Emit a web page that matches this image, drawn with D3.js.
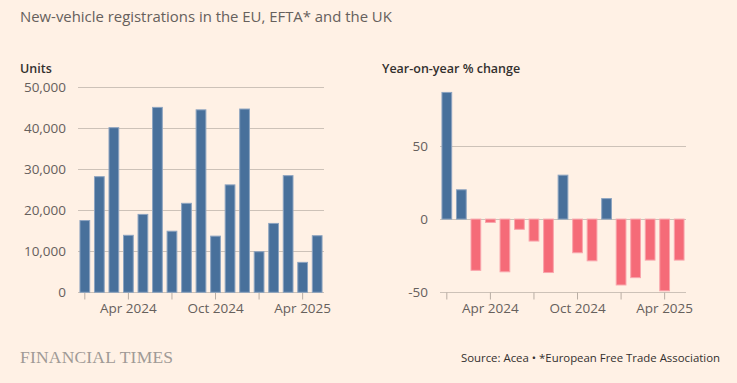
<!DOCTYPE html>
<html><head><meta charset="utf-8">
<script src="https://cdn.jsdelivr.net/npm/d3@7"></script>
<style>
html,body{margin:0;padding:0;background:#fff1e5;}
svg{display:block;font-family:"Open Sans",sans-serif;}
</style></head>
<body>
<svg id="c" width="737" height="383"></svg>
<script>
const months = ["Jan 2024","Feb 2024","Mar 2024","Apr 2024","May 2024","Jun 2024","Jul 2024","Aug 2024","Sep 2024","Oct 2024","Nov 2024","Dec 2024","Jan 2025","Feb 2025","Mar 2025","Apr 2025","May 2025"];
const units = [17500, 28200, 40150, 13900, 19000, 45100, 14900, 21700, 44500, 13700, 26200, 44700, 9900, 16800, 28450, 7300, 13800];
const yoy = [86.5, 20, -35, -2.3, -36, -7, -15, -36.5, 30, -23, -28.5, 14, -45, -40, -28, -49, -28];
const tickMonths = ["Jan 2024","Apr 2024","Jul 2024","Oct 2024","Jan 2025","Apr 2025"];
const labelledTicks = ["Apr 2024","Oct 2024","Apr 2025"];
const unitsTicks = [0, 10000, 20000, 30000, 40000, 50000];
const yoyTicks = [-50, 0, 50];

const svg = d3.select("#c");
const blue = "#48709b", blueStroke = "#8da4c0";
const pink = "#f56b78", pinkStroke = "#f9a5ac";
const grid = "#cdc2b8", tickCol = "#b8ada3", textCol = "#66605c";

svg.append("text").attr("x", 20).attr("y", 22).attr("font-size", 14.9).attr("fill", "#66605c")
  .text("New-vehicle registrations in the EU, EFTA* and the UK");

function panel(opts){
  const x = d3.scaleBand().domain(months).range(opts.xr).paddingInner(0.26).paddingOuter(0.1);
  const y = d3.scaleLinear().domain(opts.dom).range([292.3, 87.3]);
  const g = svg.append("g");
  g.append("text").attr("x", opts.titleX).attr("y", 73).attr("font-size", 12.5).attr("font-weight", 600)
    .attr("fill", "#33302e").text(opts.title);
  g.selectAll("line.grid").data(opts.ticks).join("line").attr("class","grid")
    .attr("x1", opts.xr[0]).attr("x2", opts.xr[1])
    .attr("y1", d => Math.round(y(d)) + 0.5).attr("y2", d => Math.round(y(d)) + 0.5)
    .attr("stroke", grid).attr("stroke-width", 1);
  g.selectAll("text.yl").data(opts.ticks).join("text").attr("class","yl")
    .attr("x", opts.labelX).attr("y", d => y(d)).attr("dy", "0.35em").attr("text-anchor","end")
    .attr("font-size", 13.5).attr("fill", textCol).text(opts.fmt);
  const xAxis = d3.axisBottom(x).tickValues(tickMonths).tickSize(7).tickPadding(4)
    .tickFormat(d => labelledTicks.includes(d) ? d.slice(0,3) + " " + d.slice(4) : "");
  const ax = g.append("g").attr("transform", `translate(0,${Math.round(y(opts.dom[0]))+0.5})`).call(xAxis);
  ax.select(".domain").remove();
  ax.selectAll(".tick line").attr("stroke", tickCol);
  ax.selectAll(".tick text").attr("font-size", 13.5).attr("fill", textCol).attr("font-family", '"Open Sans",sans-serif');
  g.selectAll("rect.bar").data(opts.vals).join("rect").attr("class","bar")
    .attr("x", (d,i) => x(months[i]) + 0.5).attr("width", x.bandwidth() - 1)
    .attr("y", d => y(Math.max(0,d))).attr("height", d => Math.abs(y(d) - y(0)))
    .attr("fill", d => d >= 0 ? blue : pink)
    .attr("stroke", d => d >= 0 ? blueStroke : pinkStroke).attr("stroke-width", 1);
}

panel({xr:[78,324], dom:[0,50000], ticks:unitsTicks, vals:units, labelX:66, titleX:20, title:"Units", fmt:d3.format(",")});
panel({xr:[440,686], dom:[-50,90], ticks:yoyTicks, vals:yoy, labelX:428, titleX:382, title:"Year-on-year % change", fmt:d => d});

svg.append("text").attr("x", 20).attr("y", 363).attr("font-family", '"Liberation Serif",serif')
  .attr("font-size", 17.5).attr("fill", "#a09a96").attr("letter-spacing", 0.2).text("FINANCIAL TIMES");
svg.append("text").attr("x", 720).attr("y", 362).attr("text-anchor","end").attr("font-size", 11.4)
  .attr("fill", "#33302e").text("Source: Acea \u2022 *European Free Trade Association");
</script>
</body></html>
